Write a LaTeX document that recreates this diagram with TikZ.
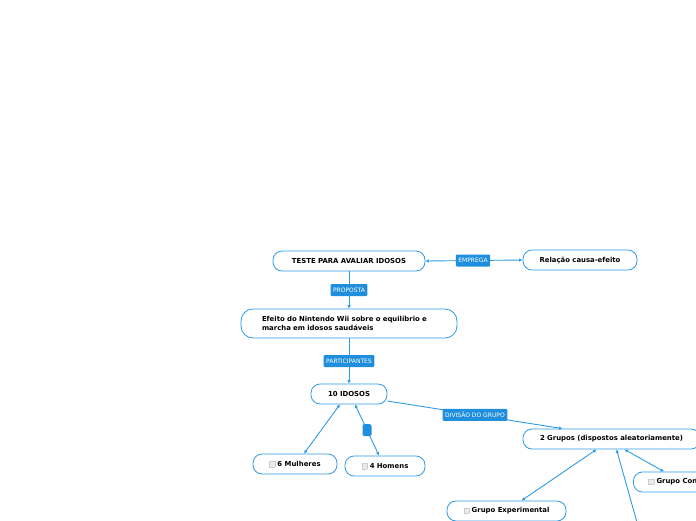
\documentclass[tikz,border=0pt]{standalone}
\usepackage{fontspec}
\setmainfont{DejaVu Sans}
\usetikzlibrary{arrows.meta,calc}
\definecolor{boxblue}{HTML}{2E9BE6}
\definecolor{lblue}{HTML}{1F8FDD}
\newcommand{\chk}{{\setlength{\fboxsep}{0pt}\setlength{\fboxrule}{0.3pt}\fcolorbox{black!20}{black!8}{\rule{0pt}{5pt}\rule{5pt}{0pt}}}\hspace{2.5pt}}
\tikzset{
  mbox/.style={draw=boxblue, line width=0.8pt, rounded corners=9pt, fill=white,
    minimum height=20pt, inner sep=0pt, font=\fontsize{6.9}{8.5}\selectfont\bfseries, text=black},
  lab/.style={fill=lblue, text=white, rounded corners=1pt, inner xsep=2.5pt, inner ysep=0pt,
    minimum height=12pt, font=\fontsize{6}{7}\selectfont},
  conn/.style={draw=boxblue, line width=0.9pt},
  tip/.style={-{Latex[length=3.5pt,width=3.5pt]}},
  tips/.style={{Latex[length=3.5pt,width=3.5pt]}-{Latex[length=3.5pt,width=3.5pt]}},
  rtip/.style={{Latex[length=3.5pt,width=3.5pt]}-}
}
\begin{document}
\begin{tikzpicture}[x=1pt,y=-1pt]
\useasboundingbox (0,0) rectangle (696,520);
\clip (0,0) rectangle (696,520);
% nodes
\node[mbox, minimum width=152pt] (teste) at (349,261) {TESTE PARA AVALIAR IDOSOS};
\node[mbox, minimum width=114pt] (rel) at (580,260) {Relação causa-efeito};
\node[mbox, minimum height=29pt, rounded corners=12pt, text width=174pt, inner xsep=21pt, align=left] (efe) at (349,323.5) {Efeito do Nintendo Wii sobre o equilíbrio e\\marcha em idosos saudáveis};
\node[mbox, minimum width=76pt] (ten) at (349,394) {10 IDOSOS};
\node[mbox, minimum width=84pt] (mul) at (295,464) {\chk 6 Mulheres};
\node[mbox, minimum width=80pt] (hom) at (385,466) {\chk 4 Homens};
\node[mbox, minimum width=177pt] (grp) at (611.5,439) {2 Grupos (dispostos aleatoriamente)};
\node[mbox, minimum width=119pt] (exp) at (506.5,511) {\chk Grupo Experimental};
\node[mbox, anchor=west, inner xsep=0pt] (gc) at (633,482) {\hspace{15pt}\chk Grupo Controle\hspace{18pt}};
\coordinate (off) at (638,526);
% connectors
\draw[conn, tips] (teste.east) -- node[lab, pos=0.49] {EMPREGA} (rel.west);
\draw[conn, tip] (teste.south) -- node[lab, pos=0.5] {PROPOSTA} (efe.north);
\draw[conn, tip] (efe.south) -- node[lab, pos=0.5] {PARTICIPANTES} (ten.north);
\draw[conn, tips] ([xshift=-9pt]ten.south) -- ([xshift=9pt]mul.north);
\draw[conn, tips] ([xshift=6pt]ten.south) -- node[lab, minimum width=9pt, minimum height=12pt, inner sep=0pt, rounded corners=1.5pt] {} ([xshift=-6pt]hom.north);
\draw[conn, tip] ([yshift=-7pt]ten.east) -- node[lab, pos=0.5] {DIVISÃO DO GRUPO} ([xshift=-49pt]grp.north);
\draw[conn, tips] ([xshift=-15pt]grp.south) -- ([xshift=15pt]exp.north);
\draw[conn, rtip] ([xshift=5pt]grp.south) -- (off);
\draw[conn, tips] ([xshift=13pt]grp.south) -- ([xshift=31pt]gc.north west);
\end{tikzpicture}
\end{document}
